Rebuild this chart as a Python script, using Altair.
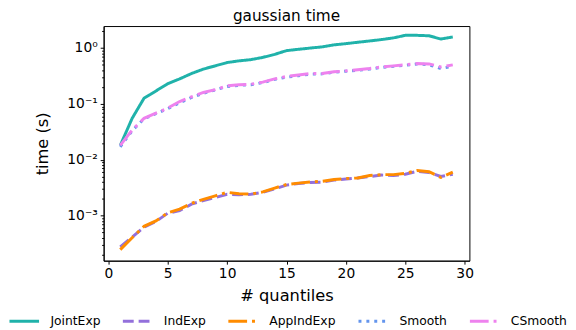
import altair as alt
import pandas as pd

quantiles = list(range(1, 30))

methods = ["JointExp", "IndExp", "AppIndExp", "Smooth", "CSmooth"]
colors = ["#20b2aa", "#9370db", "#ff8c00", "#6495ed", "#ee82ee"]
dashes = [[1, 0], [11, 5], [19, 5, 3, 5], [3, 5], [19, 5, 3, 5]]

joint_exp = [0.018, 0.055, 0.126, 0.17, 0.23, 0.28, 0.35, 0.42, 0.48, 0.55,
             0.59, 0.62, 0.68, 0.77, 0.90, 0.95, 1.0, 1.05, 1.14, 1.2,
             1.27, 1.34, 1.42, 1.52, 1.69, 1.69, 1.66, 1.45, 1.58]
ind_exp = [2.75e-4, 4.1e-4, 6.2e-4, 7.8e-4, 1.1e-3, 1.22e-3, 1.6e-3, 1.85e-3, 2.1e-3, 2.4e-3,
           2.35e-3, 2.4e-3, 2.6e-3, 3.0e-3, 3.5e-3, 3.75e-3, 3.9e-3, 3.95e-3, 4.3e-3, 4.5e-3,
           4.7e-3, 5.0e-3, 5.3e-3, 5.2e-3, 5.5e-3, 6.2e-3, 5.9e-3, 5.0e-3, 5.5e-3]
app_ind_exp = [2.45e-4, 4.0e-4, 6.4e-4, 8.0e-4, 1.12e-3, 1.3e-3, 1.65e-3, 1.95e-3, 2.25e-3, 2.6e-3,
               2.45e-3, 2.42e-3, 2.65e-3, 3.1e-3, 3.6e-3, 3.8e-3, 4.0e-3, 4.1e-3, 4.4e-3, 4.6e-3,
               4.7e-3, 5.2e-3, 5.4e-3, 5.4e-3, 5.7e-3, 6.4e-3, 6.1e-3, 4.8e-3, 6.0e-3]
smooth = [0.017, 0.033, 0.054, 0.067, 0.082, 0.105, 0.13, 0.155, 0.178, 0.205,
          0.215, 0.22, 0.24, 0.275, 0.30, 0.32, 0.34, 0.345, 0.37, 0.385,
          0.40, 0.42, 0.45, 0.47, 0.49, 0.52, 0.50, 0.43, 0.47]
c_smooth = [0.018, 0.034, 0.055, 0.068, 0.084, 0.11, 0.134, 0.16, 0.18, 0.21,
            0.22, 0.225, 0.245, 0.28, 0.31, 0.33, 0.35, 0.35, 0.375, 0.39,
            0.41, 0.43, 0.46, 0.48, 0.50, 0.53, 0.52, 0.46, 0.50]

x_ticks = [0, 5, 10, 15, 20, 25, 30]
decades = [1e-4, 1e-3, 1e-2, 1e-1, 1e0]
y_ticks = [m * d for d in decades for m in range(1, 10) if 1.55e-4 <= m * d <= 2.48]

series = [joint_exp, ind_exp, app_ind_exp, smooth, c_smooth]
rows = []
for name, vals in zip(methods, series):
    for q, v in zip(quantiles, vals):
        rows.append({"method": name, "q": q, "t": v})
df = pd.DataFrame(rows)

lg = "log(datum.value)/LN10"
label_expr = (
    f"abs({lg} - round({lg})) > 0.001 ? '' : "
    f"round({lg}) == 0 ? '10⁰' : round({lg}) == -1 ? '10⁻¹' : "
    f"round({lg}) == -2 ? '10⁻²' : '10⁻³'"
)
major_test = f"abs({lg} - round({lg})) < 0.001"

legend = alt.Legend(orient="none", legendX=-97, legendY=283,
                    direction="horizontal", columns=5, title=None,
                    symbolType="stroke", symbolSize=900, gridAlign="none",
                    symbolStrokeWidth=3, labelFontSize=12.5,
                    labelOffset=10, columnPadding=16, padding=0,
                    labelColor="black")

chart = alt.Chart(df).mark_line(strokeWidth=3, clip=True).encode(
    x=alt.X("q:Q",
            scale=alt.Scale(domain=[-0.4, 30.4], nice=False, zero=False),
            axis=alt.Axis(values=x_ticks, title="# quantiles", grid=False,
                          labelFontSize=14, titleFontSize=16.5, tickSize=3.5,
                          labelPadding=3, labelFlush=False,
                          titleY=35, titleBaseline="middle", format="d")),
    y=alt.Y("t:Q",
            scale=alt.Scale(type="log", domain=[1.55e-4, 2.48], nice=False),
            axis=alt.Axis(values=y_ticks, labelExpr=label_expr, title="time (s)",
                          grid=False, labelFontSize=14, titleFontSize=16.5,
                          tickSize={"condition": {"test": major_test, "value": 3.5}, "value": 2},
                          labelPadding=3, labelOverlap=False, labelFlush=False,
                          titleX=-62, titleY=119, titleAngle=270,
                          titleBaseline="middle", titleAlign="center")),
    color=alt.Color("method:N",
                    scale=alt.Scale(domain=methods, range=colors),
                    legend=legend),
    strokeDash=alt.StrokeDash("method:N",
                              scale=alt.Scale(domain=methods, range=dashes),
                              legend=legend),
    order=alt.Order("q:Q"),
).properties(
    width=371, height=238,
    title=alt.TitleParams("gaussian time", fontSize=15.5, fontWeight="normal",
                          anchor="middle", offset=0, color="black"),
    autosize=alt.AutoSizeParams(type="none"),
    padding={"left": 97, "top": 16, "right": 100, "bottom": 68},
).configure(
    font="DejaVu Sans",
).configure_view(
    stroke="black", strokeWidth=1,
).configure_axis(
    domainColor="black", tickColor="black", labelColor="black", titleColor="black",
    titleFontWeight="normal", labelFont="DejaVu Sans", titleFont="DejaVu Sans",
)

chart.save("out.html", embed_options={"renderer": "svg", "actions": False})
